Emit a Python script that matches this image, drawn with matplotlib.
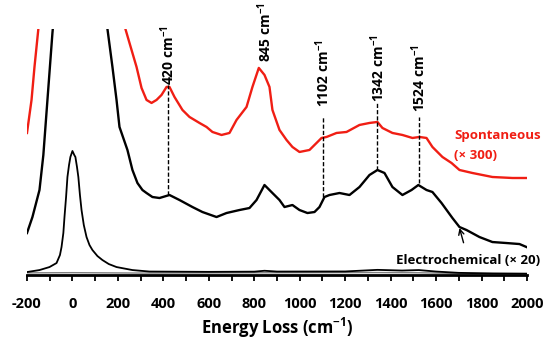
import numpy as np
import matplotlib.pyplot as plt
from matplotlib.ticker import MultipleLocator

plt.rcParams['font.family'] = ['Open Sans', 'DejaVu Sans']
plt.rcParams['font.weight'] = 'bold'
plt.rcParams['axes.unicode_minus'] = False
plt.rcParams['mathtext.fontset'] = 'custom'
plt.rcParams['mathtext.rm'] = 'Open Sans:bold'
plt.rcParams['mathtext.default'] = 'rm'

# spontaneous (x 300), red
spont_l_x = [-200, -180, -167, -150, -140]
spont_l_y = [142, 175, 208, 246, 270]
spont_x = [225, 233, 251, 282, 304, 326, 348, 370, 392, 414, 427, 449, 484, 515,
           559, 590, 616, 656, 691, 722, 766, 792, 820, 845, 867, 880, 911, 942,
           968, 999, 1043, 1074, 1096, 1118, 1162, 1206, 1263, 1307, 1342, 1364,
           1408, 1452, 1496, 1527, 1558, 1584, 1628, 1668, 1703, 1760, 1848,
           1936, 1998]
spont_y = [270, 246, 232, 208, 187, 175, 172, 175, 180, 188, 188, 178, 165, 158,
           152, 148, 143, 140, 142, 155, 168, 188, 207, 200, 188, 165, 145, 135,
           128, 123, 125, 132, 137, 138, 142, 143, 150, 152, 153, 147,
           142, 140, 137, 138, 137, 128, 118, 112, 105, 102, 98,
           97, 97]

# electrochemical (x 20), thick black
echem20_x = [-200, -176, -145, -128, -110, -88, -80, 145, 154, 176, 194, 207,
             242, 264, 286, 308, 326, 352, 383, 427, 471, 528, 572, 634, 678,
             735, 779, 810, 845, 880, 911, 933, 968, 999, 1034, 1065, 1087,
             1109, 1131, 1175, 1219, 1263, 1307, 1342, 1373, 1408, 1452, 1492,
             1522, 1558, 1584, 1624, 1672, 1703, 1734, 1791, 1848, 1910, 1967,
             1998]
echem20_y = [42, 58, 85, 120, 175, 242, 262, 262, 246, 208, 175, 148,
             125, 105, 92, 85, 82, 78, 77, 80, 75, 68, 63, 58, 62,
             65, 67, 75, 90, 82, 75, 68, 70, 65, 62, 63, 68,
             78, 80, 82, 80, 88, 100, 105, 102, 88, 80, 85,
             90, 85, 83, 72, 57, 48, 45, 38, 33, 32, 31,
             28]

# electrochemical (x 1), thin black with elastic peak
echem_x = [-200, -145, -101, -70, -55, -48, -40, -35, -28, -22, -15, -9, 0,
           8, 13, 20, 26, 33, 40, 50, 62, 75, 88, 110, 132, 160, 194, 264,
           339, 600, 800, 845, 900, 1200, 1342, 1450, 1524, 1600, 1700, 1850,
           2000]
echem_y = [3, 5, 8, 12, 20, 28, 42, 58, 78, 98, 110, 118, 124,
           120, 118, 108, 98, 80, 65, 50, 38, 30, 25, 19, 15, 11, 8, 5,
           3.5, 3.2, 3.4, 4.3, 3.5, 3.6, 5.2, 4.5, 5.0, 3.5, 2.2, 1.6,
           1.4]

# spontaneous (x 1), grey
spont1_x = [-200, 0, 300, 845, 1342, 1524, 1700, 2000]
spont1_y = [2.2, 2.4, 2.0, 2.3, 2.5, 2.3, 1.6, 1.4]

peaks = [420, 845, 1102, 1342, 1524]
label_y = [190, 213, 168, 173, 163]
dash_top = [190, None, 158, 173, 158]
dash_bot = [80, None, 78, 105, 92]

fig = plt.figure(figsize=(5.43, 3.40), dpi=100)
ax = fig.add_axes([0.0497, 0.191, 0.9208, 0.724])

ax.plot(spont1_x, spont1_y, color='grey', lw=1.0)
ax.plot(echem_x, echem_y, color='black', lw=1.3)
ax.plot(echem20_x, echem20_y, color='black', lw=1.7)
ax.plot(spont_l_x, spont_l_y, color='#f01e14', lw=1.7)
ax.plot(spont_x, spont_y, color='#f01e14', lw=1.7)

for p, ly, t, b in zip(peaks, label_y, dash_top, dash_bot):
    if t is not None:
        ax.plot([p, p], [b, t], color='black', lw=1.0, linestyle=(0, (3, 1.5)))
    ax.text(p, ly, str(p) + ' cm$^{-1}$', rotation=90, ha='center', va='bottom',
            fontsize=10, fontweight='bold')

ax.text(1681, 139, 'Spontaneous', color='#f01e14', fontsize=9.5,
        fontweight='bold', ha='left', va='center', clip_on=False)
ax.text(1681, 119, '(\u00d7 300)', color='#f01e14', fontsize=9.5,
        fontweight='bold', ha='left', va='center', clip_on=False)
ax.annotate('Electrochemical (\u00d7 20)', xy=(1703, 47), xytext=(1742, 15),
            ha='center', va='center', fontsize=9.5, fontweight='bold',
            annotation_clip=False,
            arrowprops=dict(arrowstyle='->', color='black', lw=1.0,
                            shrinkA=6, shrinkB=0))

ax.set_xlim(-200, 2000)
ax.set_ylim(0, 246)
ax.xaxis.set_major_locator(MultipleLocator(200))
ax.xaxis.set_minor_locator(MultipleLocator(100))
ax.tick_params(axis='x', which='both', direction='out', length=4.5, width=1.3,
               pad=11, labelsize=10.5)
ax.set_yticks([])
for s in ('left', 'right', 'top'):
    ax.spines[s].set_visible(False)
ax.spines['bottom'].set_linewidth(2.0)
ax.set_xlabel('Energy Loss (cm$^{-1}$)', fontsize=12, fontweight='bold',
              labelpad=4)

fig.savefig('out.png', dpi=100)
